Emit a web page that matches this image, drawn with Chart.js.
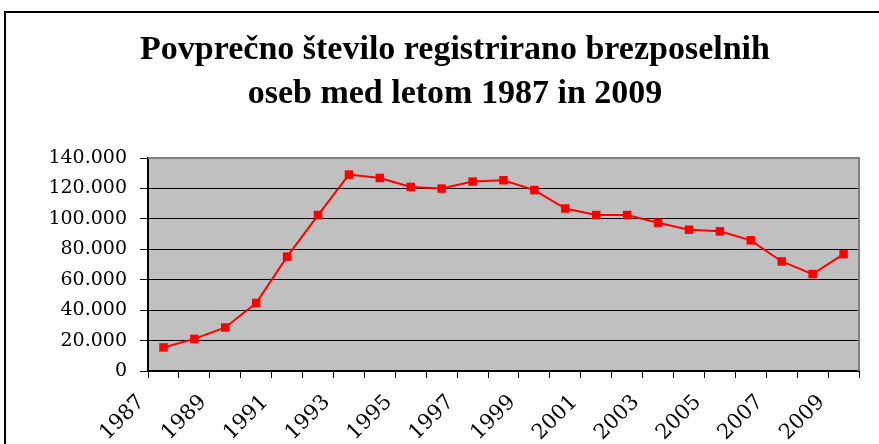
<!DOCTYPE html>
<html>
<head>
<meta charset="utf-8">
<script src="https://cdn.jsdelivr.net/npm/chart.js@4/dist/chart.umd.min.js"></script>
<style>
  html, body { margin: 0; padding: 0; background: #fff; overflow: hidden; width: 879px; height: 444px; }
  #box { position: absolute; left: 4px; top: 11px; border: 2px solid #000; width: 898px; height: 440px; }
  canvas { display: block; }
</style>
</head>
<body>
<div id="box"><canvas id="chart" width="898" height="440"></canvas></div>
<script>
// leta in povprecno stevilo registriranih brezposelnih
const years = ['1987','1988','1989','1990','1991','1992','1993','1994','1995','1996','1997','1998',
  '1999','2000','2001','2002','2003','2004','2005','2006','2007','2008','2009'];
const unemployed = [15500, 21100, 28600, 44700, 75200, 102500, 129100, 126900, 121000, 119900, 124500, 125400,
  118900, 106800, 102500, 102500, 97500, 92900, 91800, 85900, 72000, 63700, 76800];
const yTicks = [0, 20000, 40000, 60000, 80000, 100000, 120000, 140000];

const titleLines = ['Povprečno število registrirano brezposelnih', 'oseb med letom 1987 in 2009'];

// siva podlaga in obroba risalne ploskve
const plotBg = {
  id: 'plotBg',
  beforeDraw(chart) {
    const { ctx, chartArea: a } = chart;
    ctx.save();
    ctx.fillStyle = '#c0c0c0';
    ctx.fillRect(a.left, a.top, a.right - a.left, a.bottom - a.top);
    ctx.restore();
  },
  beforeDatasetsDraw(chart) {
    const { ctx, chartArea: a } = chart;
    ctx.save();
    ctx.strokeStyle = '#808080';
    ctx.lineWidth = 2;
    ctx.beginPath();
    ctx.moveTo(a.left, a.top);
    ctx.lineTo(a.right, a.top);
    ctx.lineTo(a.right, a.bottom);
    ctx.stroke();
    ctx.restore();
  }
};

const fmt = v => v === 0 ? '0' : (v / 1000).toFixed(0) + '.000';

new Chart(document.getElementById('chart'), {
  type: 'line',
  data: {
    labels: years,
    datasets: [{
      data: unemployed,
      borderColor: '#ff0000',
      backgroundColor: '#ff0000',
      borderWidth: 2,
      pointStyle: 'rect',
      pointRadius: 6,
      pointBackgroundColor: '#ff0000',
      pointBorderWidth: 0,
      tension: 0
    }]
  },
  options: {
    responsive: false,
    animation: false,
    layout: { padding: 0 },
    plugins: {
      legend: { display: false },
      tooltip: { enabled: false },
      title: {
        display: true,
        text: titleLines,
        color: '#000',
        font: { family: 'Liberation Serif', size: 34, weight: 'bold', lineHeight: 44 / 34 },
        padding: { top: 15, bottom: 42 }
      }
    },
    scales: {
      x: {
        type: 'category',
        offset: true,
        afterFit: s => { s.height = 82; },
        grid: { offset: true, drawOnChartArea: false, drawTicks: true, tickLength: 7, color: '#000', lineWidth: 1 },
        border: { color: '#000', width: 2 },
        ticks: {
          autoSkip: false,
          minRotation: 45,
          maxRotation: 45,
          padding: 12,
          labelOffset: -22,
          color: '#000',
          font: { family: 'DejaVu Serif', size: 21 },
          callback: (v, i) => i % 2 === 0 ? years[i] : ''
        }
      },
      y: {
        min: 0,
        max: 140000,
        afterFit: s => { s.width = 142; },
        afterBuildTicks: s => { s.ticks = yTicks.map(v => ({ value: v })); },
        grid: {
          color: c => c.tick && c.tick.value === 140000 ? '#808080' : '#000',
          lineWidth: 1,
          tickLength: 8,
          tickColor: '#000'
        },
        border: { color: '#000', width: 2 },
        ticks: {
          padding: 13,
          color: '#000',
          font: { family: 'DejaVu Serif', size: 19 },
          callback: v => fmt(v)
        }
      },
      // prazen prostor desno od risalne ploskve
      y2: {
        position: 'right',
        afterFit: s => { s.width = 45; },
        grid: { display: false, drawTicks: false },
        border: { display: false },
        ticks: { display: false }
      }
    }
  },
  plugins: [plotBg]
});
</script>
</body>
</html>
